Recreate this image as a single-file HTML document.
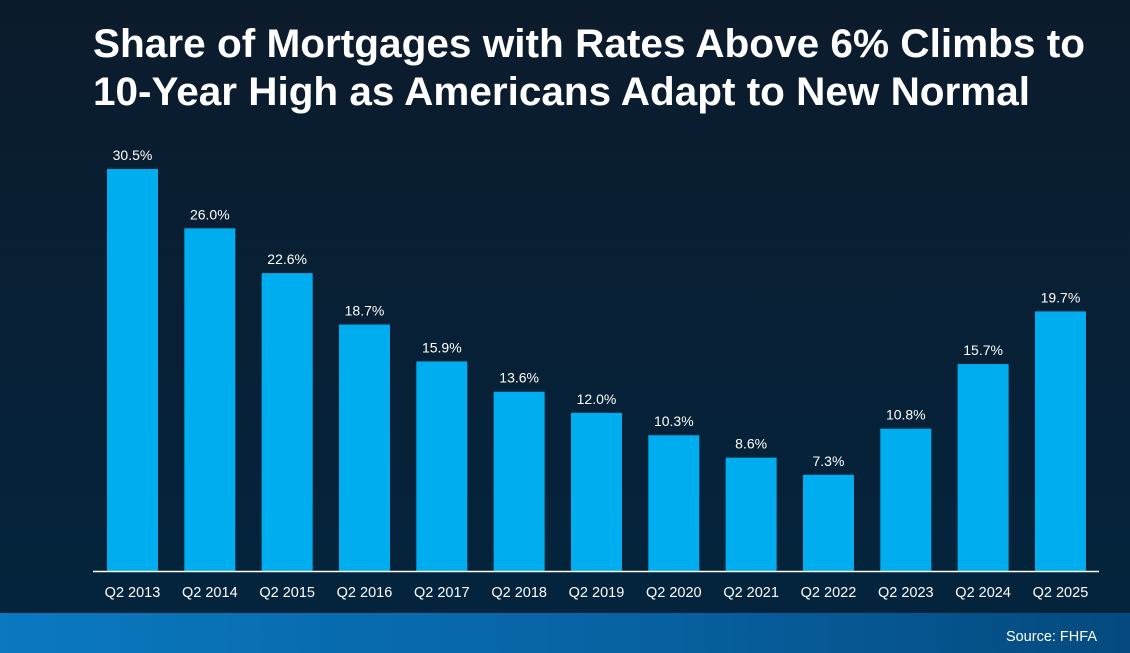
<!DOCTYPE html>
<html><head><meta charset="utf-8"><style>
html,body{margin:0;padding:0;width:1130px;height:653px;overflow:hidden;background:#0a1c30;}
svg{display:block;font-family:"Liberation Sans",Arial,sans-serif;}
</style></head><body>
<svg width="1130" height="653" viewBox="0 0 1130 653">
<defs>
<linearGradient id="bg" x1="0" y1="0" x2="0" y2="1">
<stop offset="0" stop-color="#0c1b2c"/><stop offset="1" stop-color="#03253f"/>
</linearGradient>
<linearGradient id="band" x1="0" y1="0" x2="1" y2="0">
<stop offset="0" stop-color="#0a79c0"/><stop offset="0.6" stop-color="#07609f"/><stop offset="1" stop-color="#044a7e"/>
</linearGradient>
</defs>
<rect width="1130" height="653" fill="url(#bg)"/>
<rect y="613" width="1130" height="40" fill="url(#band)"/>
<text x="1097" y="641" fill="#fff" font-size="14.5" text-anchor="end">Source: FHFA</text>
<text x="93" y="57" fill="#fff" font-size="40" font-weight="bold" textLength="992" lengthAdjust="spacingAndGlyphs">Share of Mortgages with Rates Above 6% Climbs to</text>
<text x="93" y="105" fill="#fff" font-size="40" font-weight="bold" textLength="937" lengthAdjust="spacingAndGlyphs">10-Year High as Americans Adapt to New Normal</text>
<g id="bars"></g>
<line x1="93" y1="571.5" x2="1099" y2="571.5" stroke="#fff" stroke-width="1.5"/>
</svg>
<script>
const categories = ["Q2 2013","Q2 2014","Q2 2015","Q2 2016","Q2 2017","Q2 2018","Q2 2019","Q2 2020","Q2 2021","Q2 2022","Q2 2023","Q2 2024","Q2 2025"];
const values = [30.5,26.0,22.6,18.7,15.9,13.6,12.0,10.3,8.6,7.3,10.8,15.7,19.7];
const valueLabels = ["30.5%","26.0%","22.6%","18.7%","15.9%","13.6%","12.0%","10.3%","8.6%","7.3%","10.8%","15.7%","19.7%"];
const NS="http://www.w3.org/2000/svg";
const g=document.getElementById('bars');
const baseY=571, pxPer=402/30.5;
function xCenter(i){return 132.5+i*77.33;}
function yVal(v){return baseY-v*pxPer;}
categories.forEach((c,i)=>{
  const cx=xCenter(i), y=yVal(values[i]);
  const r=document.createElementNS(NS,'rect');
  r.setAttribute('x',cx-25.5);r.setAttribute('y',y);r.setAttribute('width',51);r.setAttribute('height',baseY-y);
  r.setAttribute('fill','#00adef');
  
  
  g.appendChild(r);
  const t=document.createElementNS(NS,'text');
  t.setAttribute('x',cx);t.setAttribute('y',y-9);t.setAttribute('fill','#fff');t.setAttribute('font-size','14');t.setAttribute('text-anchor','middle');
  t.textContent=valueLabels[i];
  
  
  g.appendChild(t);
  const l=document.createElementNS(NS,'text');
  l.setAttribute('x',cx);l.setAttribute('y',597);l.setAttribute('fill','#fff');l.setAttribute('font-size','14.5');l.setAttribute('text-anchor','middle');
  l.textContent=c;
  
  
  g.appendChild(l);
});
</script>
</body></html>
